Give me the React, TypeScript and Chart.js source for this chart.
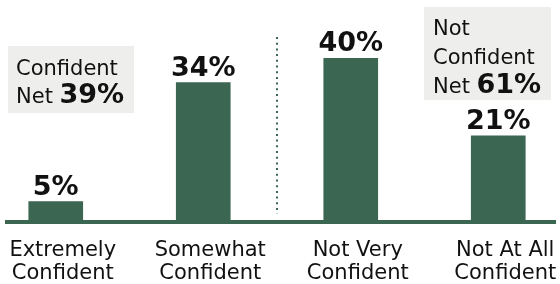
import React, { useEffect, useRef } from "react";
import { Chart, registerables } from "chart.js";

Chart.register(...registerables);

const categories: string[][] = [
  ["Extremely", "Confident"],
  ["Somewhat", "Confident"],
  ["Not Very", "Confident"],
  ["Not At All", "Confident"],
];
const values: number[] = [5, 34, 40, 21];
const confidentNet = 39;
const notConfidentNet = 61;

const GREEN = "#3b6652";
const TEXT = "#111111";
const BOX_BG = "#eeefed";
const FONT = "'DejaVu Sans', sans-serif";
const SHIFT = 18; // canvas left offset relative to page

const overlayPlugin = {
  id: "overlay",
  beforeDatasetsDraw(chart: any) {
    const { ctx } = chart;
    ctx.save();
    // annotation boxes
    ctx.fillStyle = BOX_BG;
    ctx.fillRect(8 + SHIFT, 46, 126, 67);
    ctx.fillRect(424 + SHIFT, 7, 127, 93);
    // dotted divider between the confident / not confident groups
    const meta = chart.getDatasetMeta(0);
    const mid = (meta.data[1].x + meta.data[2].x) / 2;
    ctx.strokeStyle = GREEN;
    ctx.lineWidth = 2;
    ctx.setLineDash([2, 3.7]);
    ctx.beginPath();
    ctx.moveTo(mid, 37);
    ctx.lineTo(mid, 214);
    ctx.stroke();
    ctx.setLineDash([]);
    ctx.restore();
  },
  afterDatasetsDraw(chart: any) {
    const { ctx, chartArea } = chart;
    ctx.save();
    // baseline
    ctx.fillStyle = GREEN;
    ctx.fillRect(5 + SHIFT, chartArea.bottom - 2, 551, 4);
    // value labels
    const meta = chart.getDatasetMeta(0);
    ctx.fillStyle = TEXT;
    ctx.textAlign = "center";
    ctx.textBaseline = "alphabetic";
    ctx.font = `bold 27px ${FONT}`;
    meta.data.forEach((bar: any, i: number) => {
      ctx.fillText(`${values[i]}%`, bar.x, bar.y - 7);
    });
    // box texts
    ctx.textAlign = "left";
    const reg = `21px ${FONT}`;
    const bold = `bold 27px ${FONT}`;
    const drawNet = (x: number, y: number, v: number) => {
      ctx.font = reg;
      ctx.fillText("Net ", x, y);
      const w = ctx.measureText("Net ").width;
      ctx.font = bold;
      ctx.fillText(`${v}%`, x + w, y);
    };
    ctx.font = reg;
    ctx.fillText("Confident", 16 + SHIFT, 75);
    drawNet(16 + SHIFT, 103, confidentNet);
    ctx.font = reg;
    ctx.fillText("Not", 433 + SHIFT, 35);
    ctx.fillText("Confident", 433 + SHIFT, 64);
    drawNet(433 + SHIFT, 93, notConfidentNet);
    ctx.restore();
  },
};

export default function App() {
  const ref = useRef<HTMLCanvasElement | null>(null);
  useEffect(() => {
    if (!ref.current) return;
    const chart = new Chart(ref.current, {
      type: "bar",
      data: {
        labels: categories,
        datasets: [
          {
            data: values,
            backgroundColor: GREEN,
            borderWidth: 0,
            barThickness: 54,
          },
        ],
      },
      options: {
        responsive: false,
        animation: false,
        devicePixelRatio: 1,
        layout: { padding: { top: 58, left: 0, right: 0, bottom: 0 } },
        plugins: { legend: { display: false }, tooltip: { enabled: false } },
        scales: {
          y: { display: false, min: 0, max: 40 },
          x: {
            grid: { display: false },
            border: { display: false },
            afterFit: (axis: any) => {
              axis.height = 62;
            },
            ticks: {
              color: TEXT,
              padding: 9,
              labelOffset: 7,
              maxRotation: 0,
              autoSkip: false,
              font: { family: "'DejaVu Sans', sans-serif", size: 21, lineHeight: 1.1 },
            },
          },
        },
      },
      plugins: [overlayPlugin],
    });
    return () => chart.destroy();
  }, []);
  return (
    <div
      style={{
        position: "absolute",
        left: 0,
        top: 0,
        width: 560,
        height: 284,
        overflow: "hidden",
        background: "#ffffff",
      }}
    >
      <canvas
        ref={ref}
        width={590}
        height={284}
        style={{ position: "absolute", left: -SHIFT, top: 0, width: 590, height: 284 }}
      />
    </div>
  );
}
